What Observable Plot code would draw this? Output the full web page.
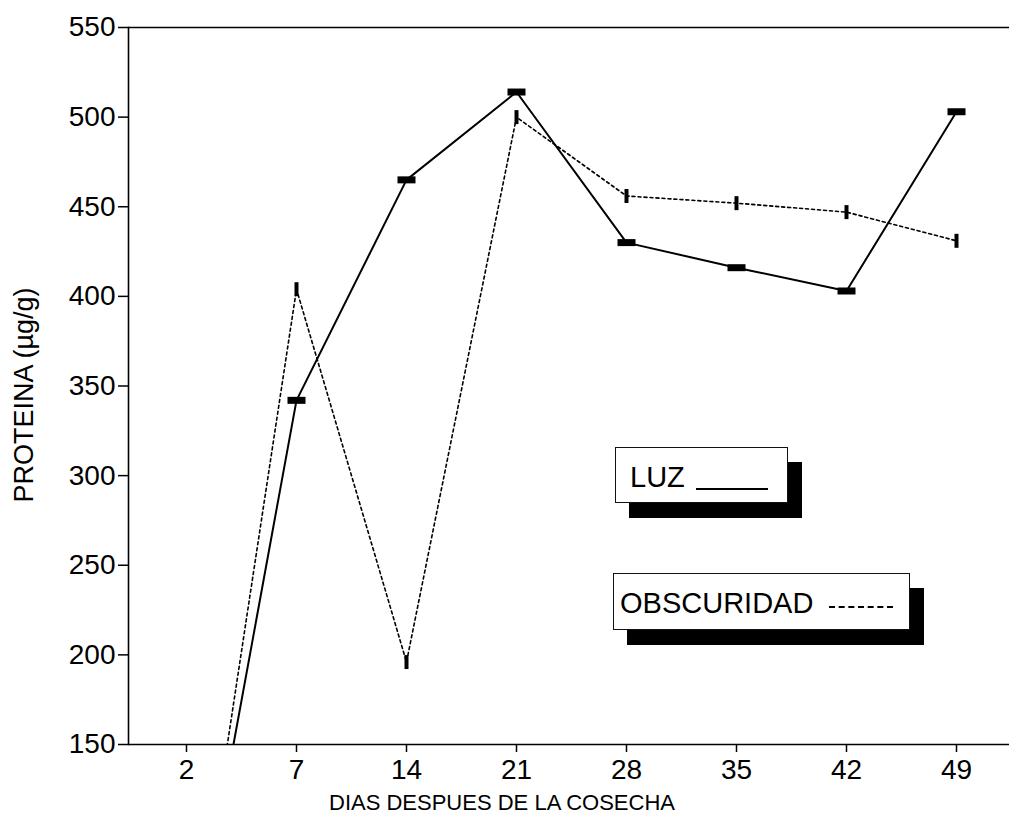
<!DOCTYPE html>
<html>
<head>
<meta charset="utf-8">
<script src="https://cdn.jsdelivr.net/npm/d3@7"></script>
<script src="https://cdn.jsdelivr.net/npm/@observablehq/plot@0.6"></script>
<style>
  html, body { margin: 0; padding: 0; background: #fff; }
  #wrap { position: relative; width: 1009px; height: 825px; font-family: "Liberation Sans", Arial, sans-serif; color: #000; }
  .lg { position: absolute; background: #fff; border: 1.5px solid #111; box-shadow: 14px 15px 0 #000; box-sizing: border-box; font-size: 29px; line-height: 1; }
  .lg span.t { position: absolute; top: 15px; }
</style>
</head>
<body>
<div id="wrap"></div>
<script>
// ---- data ----
const dias = ["2", "7", "14", "21", "28", "35", "42", "49"];
const luz = [7, 342, 465, 514, 430, 416, 403, 503];
const obscuridad = [0, 404, 196, 500, 456, 452, 447, 431];
const yTicks = [150, 200, 250, 300, 350, 400, 450, 500, 550];
const xTitle = "DIAS DESPUES DE LA COSECHA";
const yTitle = "PROTEINA (µg/g)";
const legendLuz = "LUZ";
const legendObs = "OBSCURIDAD";

const luzData = dias.map((d, i) => ({dia: d, v: luz[i]}));
const obsData = dias.map((d, i) => ({dia: d, v: obscuridad[i]}));

const hbar = {draw(ctx) { ctx.rect(-9, -3.5, 18, 7); }};
const vbar = {draw(ctx) { ctx.rect(-2, -7, 4, 14); }};

const chart = Plot.plot({
  width: 1009,
  height: 825,
  marginLeft: 128,
  marginRight: 0,
  marginTop: 27,
  marginBottom: 81,
  style: {fontFamily: "'Liberation Sans', Arial, sans-serif", fontSize: "28px", color: "#000", background: "#fff"},
  x: {type: "point", domain: dias, range: [185, 956], padding: 0},
  y: {domain: [150, 550]},
  marks: [
    Plot.frame({anchor: "left", stroke: "#000", strokeWidth: 1.6}),
    Plot.ruleY([550], {stroke: "#000", strokeWidth: 1.6}),
    Plot.ruleY([150], {stroke: "#000", strokeWidth: 1.6}),
    Plot.axisY({ticks: yTicks, tickSize: 10, tickPadding: 3, fontSize: 28, label: null, strokeWidth: 1.5}),
    Plot.axisX({tickSize: 8, tickPadding: 7, fontSize: 28, label: null, strokeWidth: 1.5}),
    Plot.line(obsData, {x: "dia", y: "v", stroke: "#000", strokeWidth: 1.6, strokeDasharray: "3,3", clip: true}),
    Plot.line(luzData, {x: "dia", y: "v", stroke: "#000", strokeWidth: 2, clip: true}),
    Plot.dot(luzData, {x: "dia", y: "v", symbol: hbar, fill: "#000", stroke: null, clip: true}),
    Plot.dot(obsData, {x: "dia", y: "v", symbol: vbar, fill: "#000", stroke: null, clip: true}),
    Plot.text([xTitle], {frameAnchor: "bottom", dx: -67, dy: 58, lineAnchor: "middle", textAnchor: "middle", fontSize: 22, fill: "#000"}),
    Plot.text([yTitle], {frameAnchor: "left", rotate: -90, dx: -104, dy: 9, lineAnchor: "middle", textAnchor: "middle", fontSize: 27, fill: "#000"})
  ]
});

const wrap = document.getElementById("wrap");
wrap.appendChild(chart);

// legend boxes
const l1 = document.createElement("div");
l1.className = "lg";
Object.assign(l1.style, {left: "615px", top: "447px", width: "173px", height: "56px"});
l1.innerHTML = `<span class="t" style="left:14px">${legendLuz}</span>` +
  `<span style="position:absolute;left:80px;top:40px;width:72px;border-top:2px solid #000"></span>`;
wrap.appendChild(l1);

const l2 = document.createElement("div");
l2.className = "lg";
Object.assign(l2.style, {left: "613px", top: "573px", width: "297px", height: "57px"});
l2.innerHTML = `<span class="t" style="left:6px">${legendObs}</span>` +
  `<span style="position:absolute;left:215px;top:32px;width:64px;border-top:2px dashed #000"></span>`;
wrap.appendChild(l2);
</script>
</body>
</html>
